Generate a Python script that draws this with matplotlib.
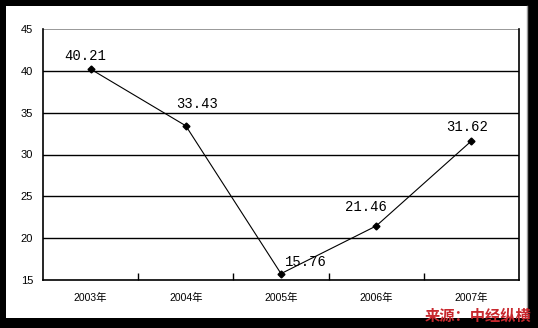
import matplotlib
matplotlib.use('Agg')
import matplotlib.pyplot as plt
from matplotlib.patches import Rectangle
from matplotlib.lines import Line2D

years = ['2003年', '2004年', '2005年', '2006年', '2007年']
values = [40.21, 33.43, 15.76, 21.46, 31.62]
# label offsets in pixels (dx, dy)
offsets = [(-5, 13), (11, 22), (25, 12), (-10, 19), (-4, 14)]

W, H = 538, 328
fig = plt.figure(figsize=(W / 100, H / 100), dpi=100)
fig.patch.set_facecolor('black')
# white inner panel
fig.add_artist(Rectangle((6 / W, 10 / H), 521 / W, 312 / H,
                         transform=fig.transFigure, facecolor='white',
                         edgecolor='none', zorder=0))
fig.add_artist(Line2D([527 / W, 527 / W], [10 / H, 322 / H],
                      transform=fig.transFigure, color='#999999', lw=1))

ax = fig.add_axes([43 / W, 48 / H, 476 / W, 251 / H])
x = list(range(len(years)))
ax.plot(x, values, color='black', lw=0.8, marker='D', ms=3.5, zorder=3)

ax.set_xlim(-0.5, len(years) - 0.5)
ax.set_ylim(15, 45)
ax.set_yticks(range(15, 46, 5))
for yv in range(20, 41, 5):
    ax.axhline(yv, color='black', lw=1, zorder=1)
ax.axhline(45, color='#888888', lw=1.2, zorder=1)

ax.set_xticks(x)
ax.set_xticklabels(years, family=['Liberation Sans', 'Noto Sans CJK SC'], fontsize=7.5)
ax.set_xticks([i + 0.5 for i in x[:-1]], minor=True)
ax.tick_params(axis='x', which='major', length=0, pad=9)
ax.tick_params(axis='x', which='minor', length=5, direction='in', width=1)
ax.tick_params(axis='y', length=0, pad=7, labelsize=8)
for lab in ax.get_yticklabels():
    lab.set_family('Liberation Sans')

for s in ['left', 'bottom', 'right']:
    ax.spines[s].set_color('black')
    ax.spines[s].set_linewidth(1.2)
ax.spines['top'].set_visible(False)

for xi, v, (dx, dy) in zip(x, values, offsets):
    ax.annotate(f'{v:.2f}', (xi, v), xytext=(dx, dy), textcoords='offset pixels',
                ha='center', va='center', fontsize=10, family='Liberation Mono')

fig.text(531 / W, 12 / H, '来源：中经纵横', ha='right', va='center',
         color='#c8282e', fontsize=11, fontweight='bold',
         family=['Noto Sans CJK SC', 'DejaVu Sans'])

fig.savefig('out.png', dpi=100, facecolor=fig.get_facecolor())
